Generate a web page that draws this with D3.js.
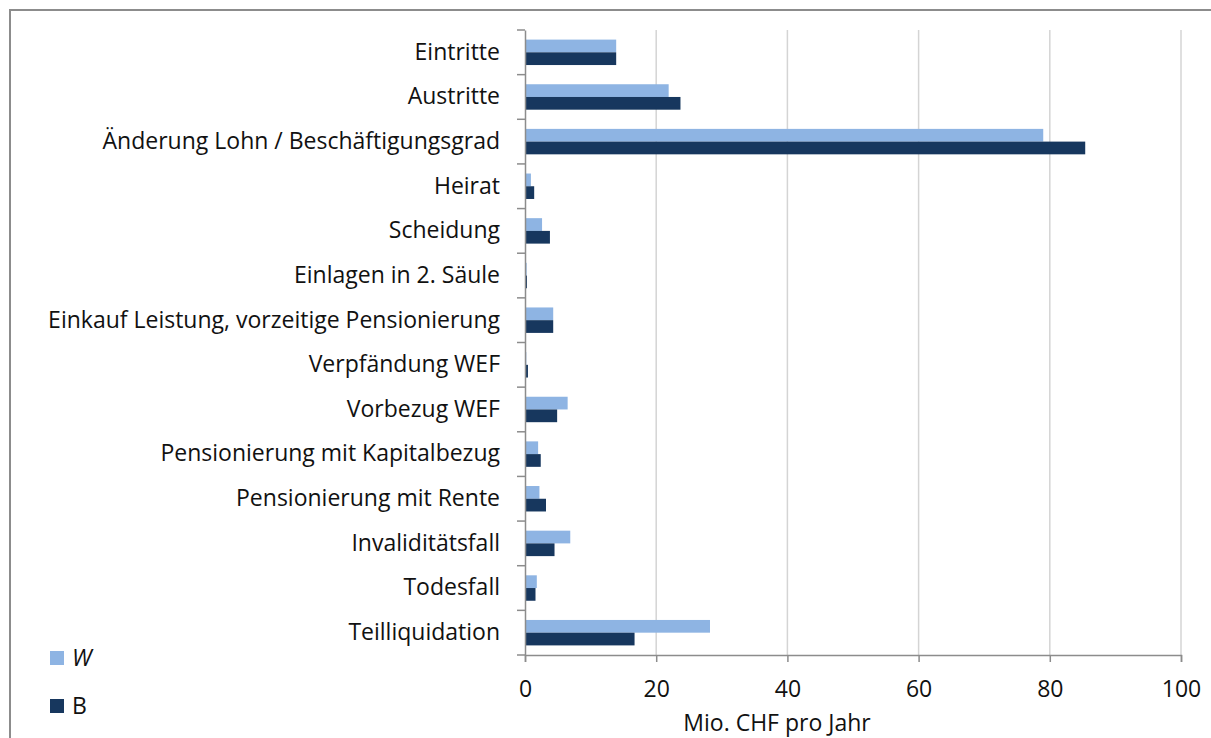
<!DOCTYPE html>
<html>
<head>
<meta charset="utf-8">
<script src="https://cdn.jsdelivr.net/npm/d3@7"></script>
<style>
  body { margin: 0; background: #fff; }
  text { font-family: "Open Sans", sans-serif; fill: #111; }
</style>
</head>
<body>
<div class="chart"></div>
<script>
const categories = ["Eintritte", "Austritte", "Änderung Lohn / Beschäftigungsgrad", "Heirat", "Scheidung",
  "Einlagen in 2. Säule", "Einkauf Leistung, vorzeitige Pensionierung", "Verpfändung WEF", "Vorbezug WEF",
  "Pensionierung mit Kapitalbezug", "Pensionierung mit Rente", "Invaliditätsfall", "Todesfall", "Teilliquidation"];
const seriesNames = ["W", "B"];
const valuesW = [13.9, 21.9, 79.0, 0.9, 2.6, 0.25, 4.3, 0.2, 6.5, 2.0, 2.2, 6.9, 1.8, 28.2];
const valuesB = [13.9, 23.7, 85.4, 1.4, 3.8, 0.3, 4.3, 0.45, 4.9, 2.4, 3.2, 4.5, 1.6, 16.7];
const xTicks = [0, 20, 40, 60, 80, 100];
const colors = {W: "#8eb4e3", B: "#17375e"};

const width = 1211, height = 738;
const plotLeft = 525, plotRight = 1181, plotTop = 30, plotBottom = 655;
const fontSize = 23;

const svg = d3.select(".chart").append("svg")
    .attr("width", width)
    .attr("height", height);

// frame
svg.append("rect")
    .attr("x", 10).attr("y", 10)
    .attr("width", width + 10).attr("height", height + 10)
    .attr("fill", "none").attr("stroke", "#8c8c8c").attr("stroke-width", 2);

const xScale = d3.scaleLinear().domain([0, 100]).range([plotLeft, plotRight]);
const yScale = d3.scaleBand().domain(categories).range([plotTop, plotBottom]).paddingInner(0.43).paddingOuter(0.215);
const sub = d3.scaleBand().domain(seriesNames).range([0, yScale.bandwidth()]);

// grid
svg.selectAll(".grid")
    .data(xTicks.slice(1))
    .enter()
    .append("line")
    .attr("x1", d => xScale(d)).attr("x2", d => xScale(d))
    .attr("y1", plotTop).attr("y2", plotBottom)
    .attr("stroke", "#d4d4d4").attr("stroke-width", 1.5);

// bars
const data = [];
categories.forEach((c, i) => {
    data.push({cat: c, s: "W", v: valuesW[i]});
    data.push({cat: c, s: "B", v: valuesB[i]});
});
svg.selectAll(".bar")
    .data(data)
    .enter()
    .append("rect")
    .attr("x", xScale(0))
    .attr("y", d => yScale(d.cat) + sub(d.s))
    .attr("width", d => xScale(d.v) - xScale(0))
    .attr("height", sub.bandwidth())
    .attr("fill", d => colors[d.s]);

// x axis
const xAxis = d3.axisBottom(xScale).tickValues(xTicks).tickSize(7).tickPadding(19);
const gx = svg.append("g")
    .attr("transform", `translate(0, ${plotBottom})`)
    .call(xAxis);
gx.select(".domain").attr("stroke", "#8c8c8c").attr("stroke-width", 1.5);
gx.selectAll(".tick line").attr("stroke", "#8c8c8c").attr("stroke-width", 1.5);
gx.selectAll("text").attr("font-size", fontSize).attr("font-family", "'Open Sans', sans-serif").attr("fill", "#111");

// y axis
const yAxis = d3.axisLeft(yScale).tickSize(0).tickPadding(25);
const gy = svg.append("g")
    .attr("transform", `translate(${plotLeft}, 0)`)
    .call(yAxis);
gy.select(".domain").attr("stroke", "#8c8c8c").attr("stroke-width", 1.5);
gy.selectAll("text").attr("font-size", fontSize).attr("font-family", "'Open Sans', sans-serif").attr("fill", "#111");

// category separators
const sep = categories.map((c, i) => plotTop + i * yScale.step()).concat([plotBottom]);
svg.selectAll(".sep")
    .data(sep)
    .enter()
    .append("line")
    .attr("x1", plotLeft - 8).attr("x2", plotLeft)
    .attr("y1", d => d).attr("y2", d => d)
    .attr("stroke", "#8c8c8c").attr("stroke-width", 1.5);

// axis title
svg.append("text")
    .attr("x", 777).attr("y", 731)
    .attr("text-anchor", "middle")
    .attr("font-size", fontSize)
    .text("Mio. CHF pro Jahr");

// legend
const legend = svg.selectAll(".legend")
    .data(seriesNames)
    .enter()
    .append("g")
    .attr("transform", (d, i) => `translate(50, ${651 + i * 48})`);
legend.append("rect")
    .attr("width", 14).attr("height", 14)
    .attr("fill", d => colors[d]);
legend.append("text")
    .attr("x", 22).attr("y", 15)
    .attr("font-size", fontSize)
    .attr("font-style", d => d === "W" ? "italic" : "normal")
    .text(d => d);
</script>
</body>
</html>
